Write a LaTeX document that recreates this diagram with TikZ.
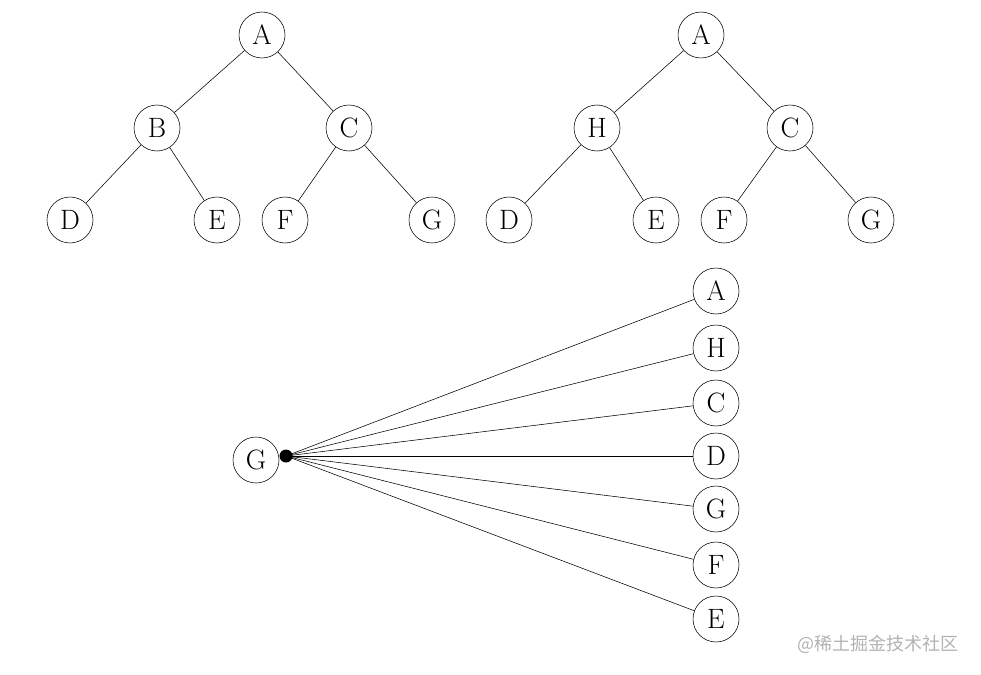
\documentclass[tikz,border=0pt]{standalone}
\usepackage{fontspec}
\newfontfamily\cjk{Noto Sans CJK SC}
\begin{document}
\begin{tikzpicture}[x=1pt,y=-1pt,
  vnode/.style={draw, circle, minimum size=46pt, inner sep=0pt, line width=0.55pt, font=\fontsize{28}{34}\selectfont},
  edge/.style={line width=0.55pt}]
\useasboundingbox (0,0) rectangle (981,674);
% tree 1
\node[vnode] (a1) at (262,35) {A};
\node[vnode] (b1) at (157,128) {B};
\node[vnode] (c1) at (349,128) {C};
\node[vnode] (d1) at (70,220) {D};
\node[vnode] (e1) at (217,220) {E};
\node[vnode] (f1) at (285,220) {F};
\node[vnode] (g1) at (432,220) {G};
\draw[edge] (a1) -- (b1);
\draw[edge] (a1) -- (c1);
\draw[edge] (b1) -- (d1);
\draw[edge] (b1) -- (e1);
\draw[edge] (c1) -- (f1);
\draw[edge] (c1) -- (g1);
% tree 2
\node[vnode] (a2) at (701,35) {A};
\node[vnode] (h2) at (597,128) {H};
\node[vnode] (c2) at (790,128) {C};
\node[vnode] (d2) at (509,220) {D};
\node[vnode] (e2) at (656,220) {E};
\node[vnode] (f2) at (724,220) {F};
\node[vnode] (g2) at (871,220) {G};
\draw[edge] (a2) -- (h2);
\draw[edge] (a2) -- (c2);
\draw[edge] (h2) -- (d2);
\draw[edge] (h2) -- (e2);
\draw[edge] (c2) -- (f2);
\draw[edge] (c2) -- (g2);
% bottom
\node[vnode] (g3) at (256,460) {G};
\node[circle, fill=black, minimum size=13pt, inner sep=0pt] (dot) at (286,456) {};
\node[vnode] (ra) at (716,291) {A};
\node[vnode] (rh) at (716,348) {H};
\node[vnode] (rc) at (716,403) {C};
\node[vnode] (rd) at (716,456) {D};
\node[vnode] (rg) at (716,509) {G};
\node[vnode] (rf) at (716,565) {F};
\node[vnode] (re) at (716,619) {E};
\foreach \n in {ra,rh,rc,rd,rg,rf,re} \draw[edge] (dot.center) -- (\n);
\node[text=black!30, font=\cjk\fontsize{18}{22}\selectfont, anchor=east] (wm) at (962,644) {@稀土掘金技术社区};
\end{tikzpicture}
\end{document}
